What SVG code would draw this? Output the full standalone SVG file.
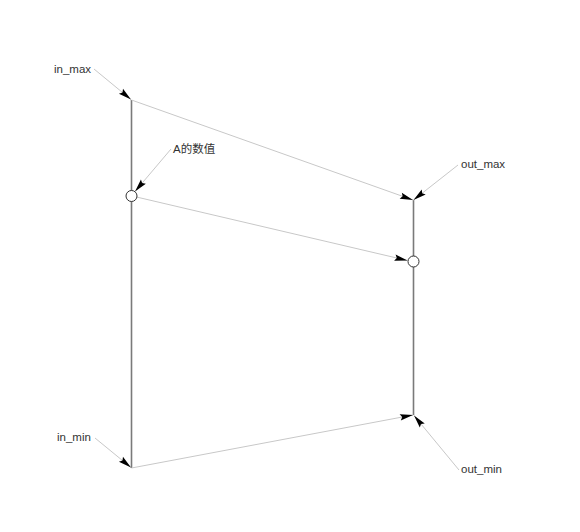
<svg xmlns="http://www.w3.org/2000/svg" width="580" height="532" viewBox="0 0 580 532">
<style>
.axis{stroke:#7a7a7a;stroke-width:1.6;fill:none}
.conn{stroke:#c8c8c8;stroke-width:1;fill:none;marker-end:url(#ah)}
.pt{fill:#fff;stroke:#333;stroke-width:1}
.lbl{font-family:"Liberation Sans","Noto Sans CJK SC",sans-serif;font-size:11.5px;fill:#333}
</style>
<defs>
<marker id="ah" markerUnits="userSpaceOnUse" markerWidth="16" markerHeight="10" refX="0" refY="0" viewBox="-14 -5 16 10" orient="auto">
<path d="M0,0 L-13,-3.2 L-11,0 L-13,3.2 Z" fill="#000"/>
</marker>
</defs>
<rect width="580" height="532" fill="#fff"/>
<g id="axes">
<line class="axis" x1="131.5" y1="100" x2="131.5" y2="468"/>
<line class="axis" x1="413.5" y1="200" x2="413.5" y2="415"/>
</g>
<g id="connectors">
<path class="conn" d="M131.5,100 L413,200"/>
<path class="conn" d="M136.5,197 L407.5,260.5"/>
<path class="conn" d="M131.5,468 L413,415"/>
<path class="conn" d="M94,69 L131,99.5"/>
<path class="conn" d="M171,149 L135,191.5"/>
<path class="conn" d="M458,165 L413.5,200"/>
<path class="conn" d="M95,438 L131,467.5"/>
<path class="conn" d="M459,470 L414,415.5"/>
</g>
<g id="a_value"><circle class="pt" cx="131.5" cy="196" r="5.5"/></g>
<g id="out_value"><circle class="pt" cx="413.5" cy="261.5" r="5.5"/></g>
<g id="in_max"><text class="lbl" x="54" y="73">in_max</text></g>
<g id="a_label"><text class="lbl" x="173" y="153">A的数值</text></g>
<g id="out_max"><text class="lbl" x="461" y="168">out_max</text></g>
<g id="in_min"><text class="lbl" x="57" y="441">in_min</text></g>
<g id="out_min"><text class="lbl" x="461" y="473">out_min</text></g>
</svg>
